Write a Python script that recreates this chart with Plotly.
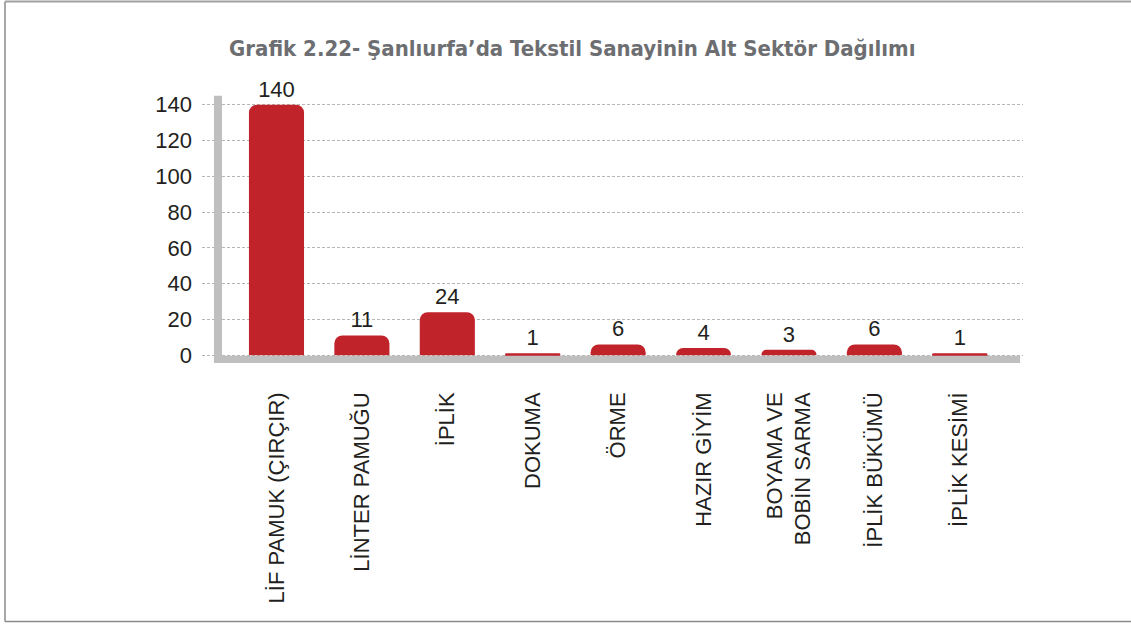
import plotly.graph_objects as go

categories = ["LİF PAMUK (ÇIRÇIR)", "LİNTER PAMUĞU", "İPLİK", "DOKUMA", "ÖRME",
              "HAZIR GİYİM", "BOYAMA VE<br>BOBİN SARMA", "İPLİK BÜKÜMÜ", "İPLİK KESİMİ"]
values = [140, 11, 24, 1, 6, 4, 3, 6, 1]
y_ticks = [0, 20, 40, 60, 80, 100, 120, 140]

W, H = 1131, 624
pl, pr = 202, 1023
pt, pb = 93.6, 363.1
x0, x1 = -0.872, 8.74
y0, y1 = -4.4, 146

RED = "#c1232b"
GRAY = "#bfbfbf"
TXT = "#231f20"
FONT = "Liberation Sans, Arial, Helvetica"

fig = go.Figure(go.Bar(
    x=list(range(len(categories))), y=values,
    marker=dict(color=RED, line=dict(width=0)),
    width=0.645,
    text=[str(v) for v in values], textposition="outside",
    textfont=dict(family=FONT, size=22, color=TXT),
    cliponaxis=False,
))

# wall and floor
fig.add_shape(type="rect", xref="x", yref="y", x0=-0.732, x1=-0.638, y0=-4.4, y1=145,
              fillcolor=GRAY, line=dict(width=0), layer="above")
fig.add_shape(type="rect", xref="x", yref="y", x0=-0.732, x1=8.706, y0=-4.4, y1=-0.3,
              fillcolor=GRAY, line=dict(width=0), layer="above")

# frame
def px(xp):
    return (xp - pl) / (pr - pl)
def py(yp):
    return (pb - yp) / (pb - pt)
fcol = "#8a8a8a"
fig.add_shape(type="line", xref="paper", yref="paper", x0=px(5), x1=px(5), y0=py(1), y1=py(622),
              line=dict(color=fcol, width=1.5))
fig.add_shape(type="line", xref="paper", yref="paper", x0=px(5), x1=px(1131), y0=py(1), y1=py(1),
              line=dict(color="#a0a0a0", width=2))
fig.add_shape(type="line", xref="paper", yref="paper", x0=px(5), x1=px(1131), y0=py(622), y1=py(622),
              line=dict(color=fcol, width=1.5))

fig.update_layout(
    width=W, height=H,
    margin=dict(l=pl, r=W - pr, t=pt, b=H - pb, pad=0),
    paper_bgcolor="white", plot_bgcolor="white",
    showlegend=False,
    barcornerradius=8,
    title=dict(text="<b>Grafik 2.22- Şanlıurfa’da Tekstil Sanayinin Alt Sektör Dağılımı</b>",
               x=0.506, xanchor="center", y=1 - 48 / H, yanchor="middle",
               font=dict(family="DejaVu Sans Condensed, Liberation Sans Narrow", size=22, color="#6d6e71")),
    xaxis=dict(range=[x0, x1], tickmode="array", tickvals=list(range(len(categories))),
               ticktext=categories, tickangle=-90, showgrid=False, zeroline=False, showline=False,
               ticks="", ticklabelstandoff=24,
               tickfont=dict(family=FONT, size=22, color=TXT)),
    yaxis=dict(range=[y0, y1], tickmode="array", tickvals=y_ticks, showgrid=True,
               gridcolor="#b5b5b5", griddash="3px,2px", gridwidth=1, zeroline=False, showline=False,
               ticks="", ticklabelstandoff=9,
               tickfont=dict(family=FONT, size=22, color=TXT)),
)

fig.write_html("out.html", config={"displayModeBar": False},
               post_script="document.body.style.margin='0';document.body.style.padding='0';")
